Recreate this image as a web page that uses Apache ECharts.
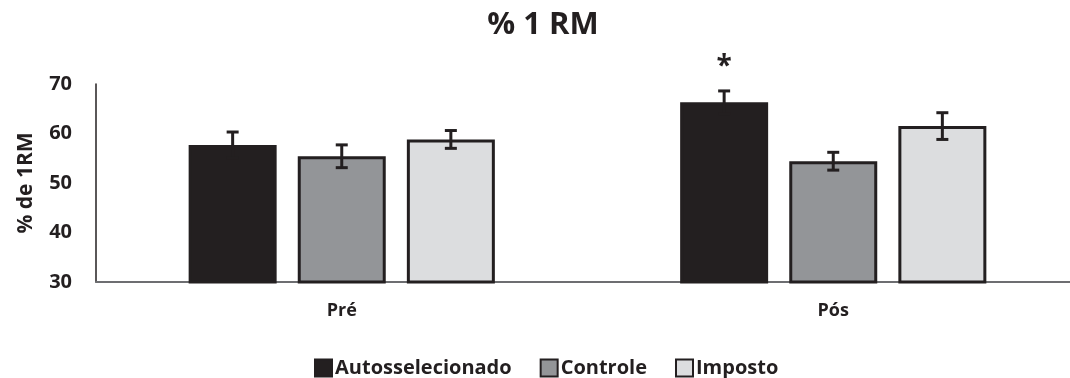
<!DOCTYPE html>
<html>
<head>
<meta charset="utf-8">
<script src="https://cdn.jsdelivr.net/npm/echarts@6/dist/echarts.min.js"></script>
<style>html,body{margin:0;padding:0;background:#fff;}#c{width:1070px;height:378px;}</style>
</head>
<body>
<div id="c"></div>
<script>
const categories = ['Pré', 'Pós'];
const seriesNames = ['Autosselecionado', 'Controle', 'Imposto'];
const autoValues = [57.7, 66.3];
const controleValues = [55.4, 54.4];
const impostoValues = [58.8, 61.5];
const autoErrors = [2.6, 2.3];
const controleErrors = [2.3, 1.8];
const impostoErrors = [1.8, 2.7];
const autoSig = ['', '*'];
const controleSig = ['', ''];
const impostoSig = ['', ''];
const yTicks = [30, 40, 50, 60, 70];

const values = [autoValues, controleValues, impostoValues];
const errors = [autoErrors, controleErrors, impostoErrors];
const sigs = [autoSig, controleSig, impostoSig];
const colors = ['#231f20', '#939598', '#dcdddf'];
const ink = '#231f20';
const FONT = '"Open Sans", "Noto Sans", sans-serif';

const CAT_GAP = 0.377, BAR_GAP = 0.24, N = 3;

const chart = echarts.init(document.getElementById('c'));

const barSeries = seriesNames.map((name, i) => ({
  name: name,
  type: 'bar',
  data: values[i],
  barGap: (BAR_GAP * 100) + '%',
  barCategoryGap: (CAT_GAP * 100) + '%',
  itemStyle: { color: colors[i], borderColor: ink, borderWidth: 3 },
  emphasis: { disabled: true },
  z: 2
}));

const errSeries = seriesNames.map((name, i) => ({
  type: 'custom',
  name: name + ' err',
  data: values[i].map((v, k) => [k, v, errors[i][k]]),
  z: 5,
  silent: true,
  renderItem: function (params, api) {
    const k = api.value(0), v = api.value(1), e = api.value(2);
    const sig = sigs[i][k];
    const band = api.size([1, 0])[0];
    const bw = band * (1 - CAT_GAP) / (N + (N - 1) * BAR_GAP);
    const off = (i - (N - 1) / 2) * bw * (1 + BAR_GAP);
    const top = api.coord([k, v + e]);
    const bot = api.coord([k, v - e]);
    const x = top[0] + off;
    const cap = 6;
    const st = { stroke: ink, lineWidth: 3 };
    const children = [
      { type: 'line', shape: { x1: x, y1: top[1], x2: x, y2: bot[1] }, style: st },
      { type: 'line', shape: { x1: x - cap, y1: top[1], x2: x + cap, y2: top[1] }, style: st },
      { type: 'line', shape: { x1: x - cap, y1: bot[1], x2: x + cap, y2: bot[1] }, style: st }
    ];
    if (sig) {
      children.push({ type: 'text', style: { text: sig, x: x, y: top[1] - 24, align: 'center', verticalAlign: 'middle', fill: ink, font: 'bold 28px ' + FONT } });
    }
    return { type: 'group', children: children };
  }
}));

chart.setOption({
  animation: false,
  backgroundColor: '#ffffff',
  textStyle: { fontFamily: FONT, color: ink },
  title: {
    text: '% 1 RM',
    left: 538, textAlign: 'center',
    top: 5,
    textStyle: { fontSize: 31, fontWeight: 'bold', color: ink, fontFamily: FONT }
  },
  legend: {
    data: seriesNames,
    bottom: -5,
    left: 309,
    itemWidth: 17, itemHeight: 17, itemGap: 28,
    icon: 'rect',
    textStyle: { fontSize: 20, fontWeight: 'bold', color: ink, fontFamily: FONT, padding: [0, 0, 0, -2] },
    itemStyle: { borderColor: ink, borderWidth: 2 }
  },
  grid: { left: 96, top: 84, width: 983, height: 198, containLabel: false, outerBoundsMode: 'none' },
  xAxis: {
    type: 'category',
    data: categories,
    axisLine: { lineStyle: { color: '#6d6e71', width: 2 } },
    axisTick: { show: false },
    axisLabel: { fontSize: 18, fontWeight: 'bold', color: ink, margin: 20, fontFamily: FONT },
    splitLine: { show: false }
  },
  yAxis: {
    type: 'value',
    min: yTicks[0], max: yTicks[yTicks.length - 1], interval: 10,
    name: '% de 1RM',
    nameLocation: 'middle',
    nameGap: 59,
    nameRotate: 90,
    nameTextStyle: { fontSize: 21, fontWeight: 'bold', color: ink, fontFamily: FONT },
    axisLine: { show: true, lineStyle: { color: '#231f20', width: 1.5 } },
    axisTick: { show: false },
    axisLabel: { fontSize: 20, fontWeight: 'bold', color: ink, margin: 24, fontFamily: FONT },
    splitLine: { show: false }
  },
  series: barSeries.concat(errSeries)
});
</script>
</body>
</html>
